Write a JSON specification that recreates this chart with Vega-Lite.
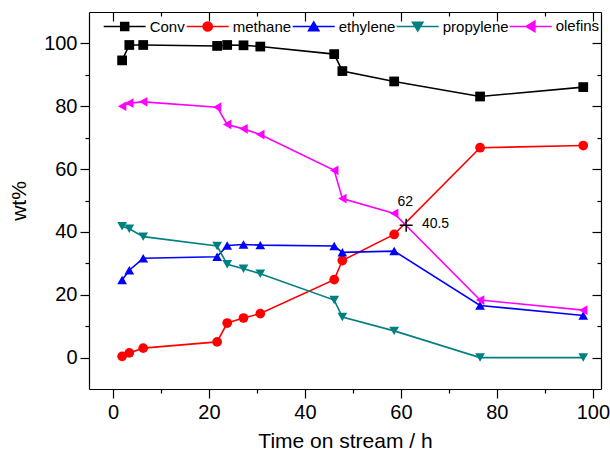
{
  "$schema": "https://vega.github.io/schema/vega-lite/v6.json",
  "usermeta": {"embedOptions": {"actions": false}},
  "width": 512,
  "height": 377,
  "autosize": {"type": "none"},
  "padding": {"left": 89, "top": 12, "right": 9, "bottom": 71},
  "background": "white",
  "config": {
    "view": {"stroke": null},
    "font": "Liberation Sans",
    "axis": {
      "domainColor": "black", "tickColor": "black", "labelColor": "black", "titleColor": "black",
      "domainWidth": 1.2, "tickWidth": 1.2, "grid": false,
      "labelFont": "Liberation Sans", "titleFont": "Liberation Sans", "titleFontWeight": "normal",
      "labelFontSize": 20, "titleFontSize": 21
    }
  },
  "datasets": {
    "main": [
      {"t": 1.9, "series": "Conv", "wt": 94.6}, {"t": 3.4, "series": "Conv", "wt": 99.5}, {"t": 6.3, "series": "Conv", "wt": 99.5}, {"t": 21.7, "series": "Conv", "wt": 99.2}, {"t": 23.8, "series": "Conv", "wt": 99.5}, {"t": 27.2, "series": "Conv", "wt": 99.4}, {"t": 30.7, "series": "Conv", "wt": 99.0}, {"t": 46.1, "series": "Conv", "wt": 96.6}, {"t": 47.8, "series": "Conv", "wt": 91.2}, {"t": 58.6, "series": "Conv", "wt": 87.9}, {"t": 76.5, "series": "Conv", "wt": 83.1}, {"t": 98, "series": "Conv", "wt": 86.1},
      {"t": 1.9, "series": "methane", "wt": 0.4}, {"t": 3.4, "series": "methane", "wt": 1.5}, {"t": 6.3, "series": "methane", "wt": 3.0}, {"t": 21.7, "series": "methane", "wt": 5.0}, {"t": 23.8, "series": "methane", "wt": 11.0}, {"t": 27.2, "series": "methane", "wt": 12.6}, {"t": 30.7, "series": "methane", "wt": 14.0}, {"t": 46.1, "series": "methane", "wt": 24.8}, {"t": 47.8, "series": "methane", "wt": 30.9}, {"t": 58.6, "series": "methane", "wt": 39.2}, {"t": 76.5, "series": "methane", "wt": 66.8}, {"t": 98, "series": "methane", "wt": 67.5},
      {"t": 1.9, "series": "ethylene", "wt": 24.7}, {"t": 3.4, "series": "ethylene", "wt": 27.8}, {"t": 6.3, "series": "ethylene", "wt": 31.6}, {"t": 21.7, "series": "ethylene", "wt": 32.1}, {"t": 23.8, "series": "ethylene", "wt": 35.7}, {"t": 27.2, "series": "ethylene", "wt": 36.0}, {"t": 30.7, "series": "ethylene", "wt": 35.8}, {"t": 46.1, "series": "ethylene", "wt": 35.5}, {"t": 47.8, "series": "ethylene", "wt": 33.5}, {"t": 58.6, "series": "ethylene", "wt": 33.9}, {"t": 76.5, "series": "ethylene", "wt": 16.6}, {"t": 98, "series": "ethylene", "wt": 13.4},
      {"t": 1.9, "series": "propylene", "wt": 41.8}, {"t": 3.4, "series": "propylene", "wt": 41.0}, {"t": 6.3, "series": "propylene", "wt": 38.5}, {"t": 21.7, "series": "propylene", "wt": 35.5}, {"t": 23.8, "series": "propylene", "wt": 29.7}, {"t": 27.2, "series": "propylene", "wt": 28.3}, {"t": 30.7, "series": "propylene", "wt": 26.7}, {"t": 46.1, "series": "propylene", "wt": 18.3}, {"t": 47.8, "series": "propylene", "wt": 12.9}, {"t": 58.6, "series": "propylene", "wt": 8.5}, {"t": 76.5, "series": "propylene", "wt": 0.0}, {"t": 98, "series": "propylene", "wt": 0.0},
      {"t": 1.9, "series": "olefins", "wt": 80.0}, {"t": 3.4, "series": "olefins", "wt": 81.0}, {"t": 6.3, "series": "olefins", "wt": 81.4}, {"t": 21.7, "series": "olefins", "wt": 79.7}, {"t": 23.8, "series": "olefins", "wt": 74.2}, {"t": 27.2, "series": "olefins", "wt": 72.8}, {"t": 30.7, "series": "olefins", "wt": 71.0}, {"t": 46.1, "series": "olefins", "wt": 59.6}, {"t": 47.8, "series": "olefins", "wt": 50.6}, {"t": 58.6, "series": "olefins", "wt": 45.9}, {"t": 76.5, "series": "olefins", "wt": 18.3}, {"t": 98, "series": "olefins", "wt": 15.1}
    ],
    "cross": [{"t": 61.1, "wt": 42.1, "tl": "62", "wl": "40.5"}]
  },
  "resolve": {
    "scale": {"color": "independent", "shape": "independent", "fill": "independent", "stroke": "independent"},
    "axis": {"x": "independent", "y": "independent"}
  },
  "layer": [
    {
      "data": {"name": "main"},
      "mark": {"type": "line", "strokeWidth": 1.6},
      "encoding": {
        "x": {"field": "t", "type": "quantitative", "scale": {"domain": [-5, 101.7], "nice": false, "zero": false},
              "axis": {"orient": "bottom", "values": [0, 20, 40, 60, 80, 100], "tickSize": 9, "labelPadding": 4, "title": "Time on stream / h", "titlePadding": 8}},
        "y": {"field": "wt", "type": "quantitative", "scale": {"domain": [-10, 110], "nice": false, "zero": false},
              "axis": {"orient": "left", "values": [0, 20, 40, 60, 80, 100], "tickSize": 9, "labelPadding": 3, "title": "wt%", "titlePadding": 14}},
        "color": {"field": "series", "type": "nominal",
                  "scale": {"domain": ["Conv", "methane", "ethylene", "propylene", "olefins"], "range": ["#000000", "#ff0000", "#0000ff", "#008080", "#ff00ff"]},
                  "legend": null},
        "order": {"field": "t", "type": "quantitative"}
      }
    },
    {
      "data": {"name": "main"},
      "mark": {"type": "point", "filled": true, "opacity": 1, "size": 95},
      "encoding": {
        "x": {"field": "t", "type": "quantitative", "axis": {"orient": "bottom", "values": [10, 30, 50, 70, 90], "tickSize": 4, "labels": false, "domain": false, "title": null}},
        "y": {"field": "wt", "type": "quantitative", "axis": {"orient": "left", "values": [10, 30, 50, 70, 90], "tickSize": 4, "labels": false, "domain": false, "title": null}},
        "color": {"field": "series", "type": "nominal",
                  "scale": {"domain": ["Conv", "methane", "ethylene", "propylene", "olefins"], "range": ["#000000", "#ff0000", "#0000ff", "#008080", "#ff00ff"]},
                  "legend": null},
        "shape": {"field": "series", "type": "nominal",
                  "scale": {"domain": ["Conv", "methane", "ethylene", "propylene", "olefins"], "range": ["square", "circle", "triangle-up", "triangle-down", "triangle-left"]},
                  "legend": null}
      }
    },
    {
      "data": {"name": "main"},
      "transform": [{"filter": "datum.wt > 1000"}],
      "mark": {"type": "point", "filled": true, "opacity": 1, "strokeWidth": 1.5},
      "encoding": {
        "x": {"field": "t", "type": "quantitative", "axis": {"orient": "top", "values": [0, 20, 40, 60, 80, 100], "tickSize": -9, "labels": false, "title": null}},
        "y": {"field": "wt", "type": "quantitative", "axis": {"orient": "right", "values": [0, 20, 40, 60, 80, 100], "tickSize": -9, "labels": false, "title": null}},
        "fill": {"field": "series", "type": "nominal",
                 "scale": {"domain": ["Conv", "methane", "ethylene", "propylene", "olefins"], "range": ["#000000", "#ff0000", "#0000ff", "#008080", "#ff00ff"]},
                 "legend": {"orient": "none", "legendX": 13.7, "legendY": -8, "direction": "horizontal", "columns": 5, "title": null, "symbolSize": 1764, "symbolStrokeWidth": 1.5, "labelFontSize": 15, "labelFont": "Liberation Sans", "labelColor": "black", "labelOffset": 3, "columnPadding": -5, "padding": 0, "symbolOpacity": 1}},
        "stroke": {"field": "series", "type": "nominal",
                 "scale": {"domain": ["Conv", "methane", "ethylene", "propylene", "olefins"], "range": ["#000000", "#ff0000", "#0000ff", "#008080", "#ff00ff"]},
                 "legend": {"orient": "none", "legendX": 13.7, "legendY": -8, "direction": "horizontal", "columns": 5, "title": null, "symbolSize": 1764, "symbolStrokeWidth": 1.5, "labelFontSize": 15, "labelFont": "Liberation Sans", "labelColor": "black", "labelOffset": 3, "columnPadding": -5, "padding": 0, "symbolOpacity": 1}},
        "shape": {"field": "series", "type": "nominal",
                  "scale": {"domain": ["Conv", "methane", "ethylene", "propylene", "olefins"],
                            "range": ["M-1,0H1M-0.19,-0.19H0.19V0.19H-0.19Z",
                                      "M-1,0H1M-0.22,0A0.22,0.22,0,1,0,0.22,0A0.22,0.22,0,1,0,-0.22,0Z",
                                      "M-1,0H1M0,-0.22L0.25,0.2L-0.25,0.2Z",
                                      "M-1,0H1M0,0.22L0.25,-0.2L-0.25,-0.2Z",
                                      "M-1,0H1M-0.22,0L0.2,-0.25L0.2,0.25Z"]},
                  "legend": {"orient": "none", "legendX": 13.7, "legendY": -8, "direction": "horizontal", "columns": 5, "title": null, "symbolSize": 1764, "symbolStrokeWidth": 1.5, "labelFontSize": 15, "labelFont": "Liberation Sans", "labelColor": "black", "labelOffset": 3, "columnPadding": -5, "padding": 0, "symbolOpacity": 1}}
      }
    },
    {
      "data": {"name": "cross"},
      "mark": {"type": "point", "shape": "M-1,0H1M0,-1V1", "size": 169, "filled": false, "stroke": "black", "strokeWidth": 1.5, "opacity": 1},
      "encoding": {
        "x": {"field": "t", "type": "quantitative", "axis": {"orient": "top", "values": [10, 30, 50, 70, 90], "tickSize": -4, "labels": false, "domain": false, "title": null}},
        "y": {"field": "wt", "type": "quantitative", "axis": {"orient": "right", "values": [10, 30, 50, 70, 90], "tickSize": -4, "labels": false, "domain": false, "title": null}}
      }
    },
    {
      "data": {"name": "cross"},
      "mark": {"type": "text", "fontSize": 14, "font": "Liberation Sans", "color": "black", "align": "center", "baseline": "middle", "dx": -1, "dy": -23.7},
      "encoding": {
        "x": {"field": "t", "type": "quantitative", "axis": null},
        "y": {"field": "wt", "type": "quantitative", "axis": null},
        "text": {"field": "tl"}
      }
    },
    {
      "data": {"name": "cross"},
      "mark": {"type": "text", "fontSize": 14, "font": "Liberation Sans", "color": "black", "align": "left", "baseline": "middle", "dx": 15.7, "dy": -1},
      "encoding": {
        "x": {"field": "t", "type": "quantitative", "axis": null},
        "y": {"field": "wt", "type": "quantitative", "axis": null},
        "text": {"field": "wl"}
      }
    }
  ]
}
